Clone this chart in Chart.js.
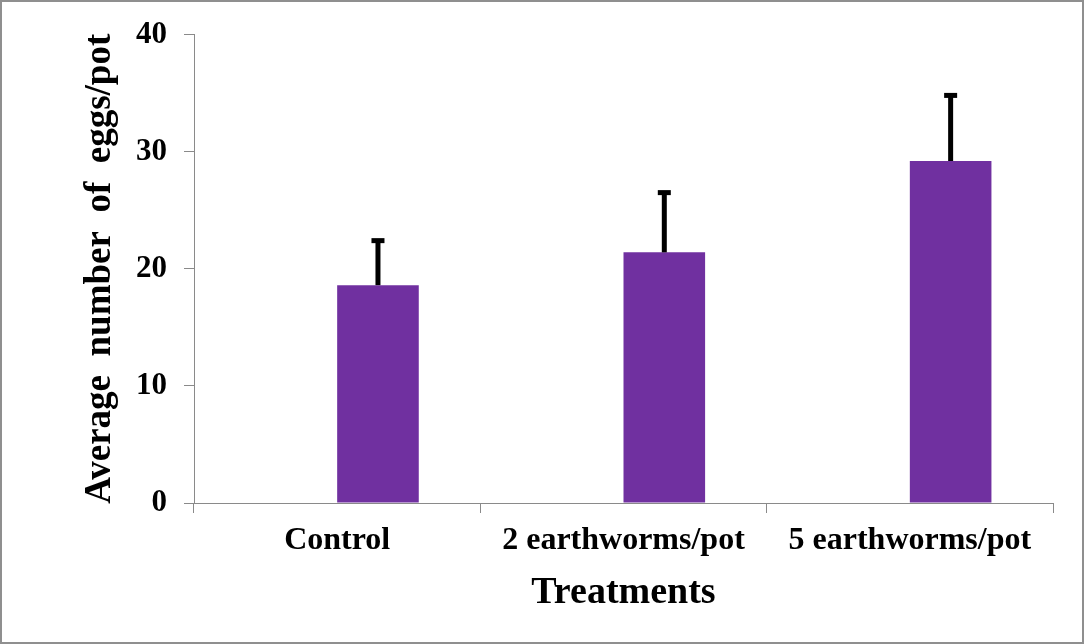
<!DOCTYPE html>
<html>
<head>
<meta charset="utf-8">
<script src="https://cdn.jsdelivr.net/npm/chart.js@4.4.1/dist/chart.umd.min.js"></script>
<style>
  html, body { margin: 0; padding: 0; background: #ffffff; }
  #frame { position: absolute; left: 0; top: 0; width: 1084px; height: 644px; box-sizing: border-box; border: 2px solid #8f8f8f; background: #fff; }
  #c { position: absolute; left: 0; top: 0; }
</style>
</head>
<body>
<div id="frame"><canvas id="c" width="1080" height="640"></canvas></div>
<script>
// ---- data ----
const categories = ["Control", "2 earthworms/pot", "5 earthworms/pot"];
const meanEggs = [18.6, 21.4, 29.2];
const errorUpper = [3.8, 5.1, 5.6];
const emptySeries = [null, null, null];
const yTicks = [0, 10, 20, 30, 40];

const FONT = "'Liberation Serif', 'Times New Roman', serif";
const AXIS = '#8a8a8a';

const errorBarPlugin = {
  id: 'errorBars',
  afterDatasetsDraw(chart) {
    const ctx = chart.ctx;
    const meta = chart.getDatasetMeta(1);
    const yScale = chart.scales.y;
    ctx.save();
    ctx.strokeStyle = '#000';
    ctx.fillStyle = '#000';
    meta.data.forEach((bar, i) => {
      const x = bar.x;
      const yTop = yScale.getPixelForValue(meanEggs[i] + errorUpper[i]);
      const yBase = yScale.getPixelForValue(meanEggs[i]);
      ctx.lineWidth = 5;
      ctx.beginPath();
      ctx.moveTo(x, yBase);
      ctx.lineTo(x, yTop);
      ctx.stroke();
      ctx.fillRect(x - 6.5, yTop - 2.5, 13, 5);
    });
    ctx.restore();
  }
};

new Chart(document.getElementById('c'), {
  type: 'bar',
  data: {
    labels: categories,
    datasets: [
      { label: 'blank', data: emptySeries, backgroundColor: '#7030A0' },
      { label: 'Average number of eggs/pot', data: meanEggs, backgroundColor: '#7030A0', borderWidth: 0 }
    ]
  },
  options: {
    responsive: false,
    animation: false,
    devicePixelRatio: 1,
    layout: { padding: { top: 31, right: 29, left: 0, bottom: 0 } },
    plugins: { legend: { display: false }, tooltip: { enabled: false } },
    datasets: { bar: { categoryPercentage: 0.57, barPercentage: 1.0 } },
    scales: {
      x: {
        grid: { drawOnChartArea: false, drawTicks: true, tickLength: 10, color: AXIS, offset: true },
        border: { display: true, color: AXIS, width: 1 },
        ticks: { color: '#000', font: { family: FONT, size: 32, weight: 'bold', lineHeight: 1 }, padding: 12, maxRotation: 0, autoSkip: false },
        title: { display: true, text: 'Treatments', color: '#000', font: { family: FONT, size: 38, weight: 'bold', lineHeight: 1 }, padding: { top: 0, bottom: 30 } },
        afterFit(scale) { scale.height = 139; }
      },
      y: {
        min: 0, max: 40,
        afterBuildTicks(scale) { scale.ticks = yTicks.map(v => ({ value: v })); },
        grid: { drawOnChartArea: false, drawTicks: true, tickLength: 10, color: AXIS },
        border: { display: true, color: AXIS, width: 1 },
        ticks: { color: '#000', font: { family: FONT, size: 31, weight: 'bold', lineHeight: 1 }, padding: 17 },
        title: { display: true, text: 'Average  number  of  eggs/pot', color: '#000', font: { family: FONT, size: 37, weight: 'bold', lineHeight: 1 }, padding: { top: 80, bottom: 0 } },
        afterFit(scale) { scale.width = 192; }
      }
    }
  },
  plugins: [errorBarPlugin]
});
</script>
</body>
</html>
